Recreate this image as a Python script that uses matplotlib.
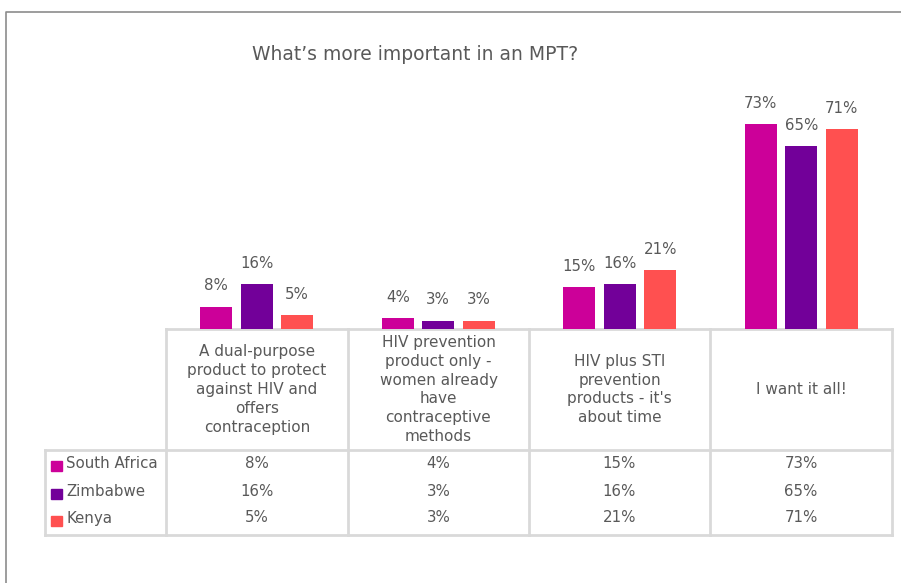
import matplotlib
matplotlib.use("Agg")
import matplotlib.pyplot as plt
import numpy as np

categories = ["A dual-purpose\nproduct to protect\nagainst HIV and\noffers\ncontraception",
              "HIV prevention\nproduct only -\nwomen already\nhave\ncontraceptive\nmethods",
              "HIV plus STI\nprevention\nproducts - it's\nabout time",
              "I want it all!"]
countries = ["South Africa", "Zimbabwe", "Kenya"]
south_africa = [8, 4, 15, 73]
zimbabwe = [16, 3, 16, 65]
kenya = [5, 3, 21, 71]
colors = ["#CC0099", "#720099", "#FF5050"]

values = [south_africa, zimbabwe, kenya]
text_color = "#595959"
grid_color = "#D9D9D9"
plt.rcParams['font.family'] = ['DejaVu Sans']

W, H = 901, 583
fig = plt.figure(figsize=(W / 100, H / 100), dpi=100)

# background axes in pixel coordinates (frame, title, table)
bg = fig.add_axes([0, 0, 1, 1])
bg.set_xlim(0, W)
bg.set_ylim(H, 0)
bg.axis("off")

# outer chart frame
bg.plot([6, 6, W + 5], [H + 5, 12, 12], color="#8C8C8C", lw=1.2, clip_on=False)

bg.text(415, 55, "What\u2019s more important in an MPT?", ha="center", va="center",
        fontsize=13.5, color=text_color)

# table geometry
x_left, x_cols = 45, [166, 348, 529, 710, 892]
y_top, y_head, y_bot = 329, 450, 535
row_y = [463, 491, 518]

for x in x_cols:
    bg.plot([x, x], [y_top, y_bot], color=grid_color, lw=2)
bg.plot([x_left, x_left], [y_head, y_bot], color=grid_color, lw=2)
bg.plot([x_cols[0], x_cols[-1]], [y_top, y_top], color=grid_color, lw=2)
bg.plot([x_left, x_cols[-1]], [y_head, y_head], color=grid_color, lw=2)
bg.plot([x_left, x_cols[-1]], [y_bot, y_bot], color=grid_color, lw=2)

for i, cat in enumerate(categories):
    cx = (x_cols[i] + x_cols[i + 1]) / 2
    bg.text(cx, (y_top + y_head) / 2, cat, ha="center", va="center",
            fontsize=11, color=text_color, linespacing=1.32)
    for r, series in enumerate(values):
        bg.text(cx, row_y[r], f"{series[i]}%", ha="center", va="center",
                fontsize=10.8, color=text_color)

for r, name in enumerate(countries):
    bg.add_patch(plt.Rectangle((51, row_y[r] - 2), 11, 10, color=colors[r]))
    bg.text(66, row_y[r], name, ha="left", va="center", fontsize=10.8, color=text_color)

# bar axes
ax_top = 80
scale = 2.81  # px per percent
ax = fig.add_axes([x_cols[0] / W, (H - y_top) / H,
                   (x_cols[-1] - x_cols[0]) / W, (y_top - ax_top) / H])
ax.set_xlim(-0.5, 3.5)
ax.set_ylim(0, (y_top - ax_top) / scale)
ax.axis("off")

x = np.arange(len(categories))
offset, width = 0.223, 0.176
for k, series in enumerate(values):
    pos = x + (k - 1) * offset
    ax.bar(pos, series, width, color=colors[k])
    for p, v in zip(pos, series):
        ax.annotate(f"{v}%", (p, v), xytext=(0, 9.5), textcoords="offset points",
                    ha="center", va="bottom", fontsize=10.8, color=text_color)

fig.savefig("out.png", dpi=100)
